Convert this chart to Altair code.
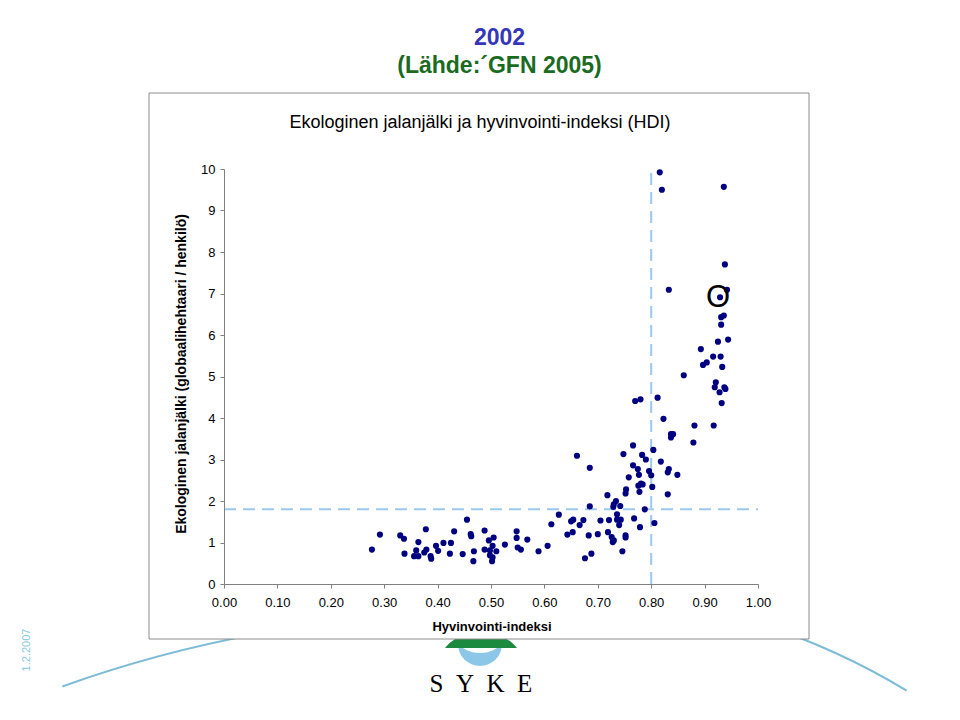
import math
import altair as alt
import pandas as pd

# ---------------- data ----------------
hdi = [0.277, 0.292, 0.330, 0.337, 0.338, 0.364, 0.378, 0.360, 0.356, 0.364,
       0.375, 0.379, 0.387, 0.388, 0.397, 0.401, 0.411, 0.425, 0.423, 0.431,
       0.455, 0.447, 0.462, 0.463, 0.468, 0.467, 0.488, 0.496, 0.505, 0.503,
       0.488, 0.498, 0.510, 0.498, 0.503, 0.502, 0.526, 0.548, 0.548, 0.550,
       0.556, 0.568, 0.589, 0.606, 0.613, 0.627, 0.650, 0.654, 0.643, 0.653,
       0.666,
       0.661, 0.685, 0.766, 0.748, 0.783, 0.790, 0.804, 0.818, 0.766, 0.775,
       0.777, 0.796, 0.800, 0.833, 0.831, 0.849, 0.758, 0.781, 0.776, 0.784,
       0.802, 0.753, 0.752, 0.778, 0.831, 0.718, 0.734, 0.730, 0.729, 0.742,
       0.685, 0.788, 0.736, 0.673, 0.705, 0.721, 0.736, 0.743, 0.740, 0.768,
       0.779, 0.806, 0.683, 0.700, 0.719, 0.726, 0.730, 0.728, 0.752, 0.752,
       0.688, 0.676, 0.746,
       0.816, 0.820, 0.936, 0.938, 0.833, 0.942, 0.929, 0.936, 0.931, 0.931,
       0.925, 0.944, 0.893, 0.916, 0.930, 0.904, 0.897, 0.933, 0.861, 0.921,
       0.919, 0.937, 0.939, 0.928, 0.932, 0.770, 0.780, 0.812, 0.823, 0.881,
       0.917, 0.837, 0.841, 0.837, 0.879]

footprint = [0.83, 1.19, 1.17, 1.09, 0.73, 1.01, 1.32, 0.81, 0.67, 0.67,
             0.76, 0.83, 0.67, 0.61, 0.92, 0.80, 0.99, 0.99, 0.73, 1.27,
             1.55, 0.72, 1.20, 1.15, 0.79, 0.55, 1.29, 1.05, 1.12, 0.92,
             0.83, 0.81, 0.79, 0.69, 0.64, 0.55, 0.95, 1.27, 1.11, 0.88,
             0.83, 1.07, 0.79, 0.92, 1.44, 1.67, 1.51, 1.55, 1.19, 1.25,
             1.42,
             3.09, 2.80, 3.34, 3.13, 3.11, 3.00, 3.23, 2.95, 2.86, 2.77,
             2.63, 2.72, 2.62, 2.77, 2.69, 2.63, 2.57, 2.42, 2.37, 2.40,
             2.34, 2.28, 2.18, 2.22, 2.16, 2.14, 2.00, 1.92, 1.86, 1.88,
             1.87, 1.80, 1.68, 1.54, 1.53, 1.54, 1.55, 1.55, 1.42, 1.58,
             1.37, 1.47, 1.17, 1.20, 1.25, 1.13, 1.05, 1.01, 1.17, 1.12,
             0.73, 0.62, 0.79,
             9.92, 9.50, 9.57, 7.70, 7.09, 7.09, 6.91, 6.47, 6.43, 6.25,
             5.84, 5.89, 5.66, 5.48, 5.48, 5.34, 5.28, 5.23, 5.03, 4.86,
             4.74, 4.74, 4.70, 4.62, 4.36, 4.41, 4.45, 4.49, 3.98, 3.82,
             3.82, 3.61, 3.61, 3.53, 3.41]

x_ticks = [0.0, 0.1, 0.2, 0.3, 0.4, 0.5, 0.6, 0.7, 0.8, 0.9, 1.0]
y_ticks = [0, 1, 2, 3, 4, 5, 6, 7, 8, 9, 10]

hdi_threshold = 0.80      # vertical dashed line
biocapacity = 1.8         # horizontal dashed line

annot_x = [0.925]
annot_y = [6.89]
annot_text = ["O"]

heading_year = "2002"
heading_source = "(Lähde:´GFN 2005)"
chart_title = "Ekologinen jalanjälki ja hyvinvointi-indeksi (HDI)"
x_title = "Hyvinvointi-indeksi"
y_title = "Ekologinen jalanjälki (globaalihehtaari / henkilö)"
logo_text = "S\u00a0\u00a0Y\u00a0\u00a0K\u00a0\u00a0E"
date_text = "1.2.2007"

# ---------------- chart ----------------
FONT = "Liberation Sans"
W, H = 534, 415
TAU = 2 * math.pi

pts = pd.DataFrame({"hdi": hdi, "ef": footprint})
one = pd.DataFrame({"k": [0]})

xs = alt.Scale(domain=[0, 1], nice=False, zero=False)
ys = alt.Scale(domain=[0, 10], nice=False, zero=False)
xa = alt.Axis(values=x_ticks, format=".2f", grid=False, tickSize=4, labelPadding=8,
              labelFontSize=13, labelFont=FONT, labelColor="black",
              domainColor="#808080", tickColor="#808080", labelFlush=False,
              labelOverlap=False, title="", zindex=1)
ya = alt.Axis(values=y_ticks, format="d", grid=False, tickSize=4, labelPadding=5,
              labelFontSize=13, labelFont=FONT, labelColor="black",
              domainColor="#808080", tickColor="#808080", labelFlush=False,
              labelOverlap=False, title="", zindex=1)

base1 = alt.Chart(one)

# decorative background arcs (left and right swoosh, mostly hidden by the box)
arc_left = base1.mark_arc(theta=TAU - 0.343, theta2=TAU,
                          outerRadius=1245, innerRadius=1243,
                          color="#7dbcd8").encode(x=alt.value(256.7), y=alt.value(1689))
arc_right = base1.mark_arc(theta=0.2, theta2=0.543,
                           outerRadius=701, innerRadius=699,
                           color="#7dbcd8").encode(x=alt.value(321), y=alt.value(1121))

# logo
bowl = base1.mark_arc(theta=math.pi / 2, theta2=3 * math.pi / 2, outerRadius=22,
                      color="#8cc7e8").encode(x=alt.value(256), y=alt.value(475))
bowl_cut = base1.mark_arc(theta=math.pi / 2, theta2=3 * math.pi / 2, outerRadius=33,
                          color="white").encode(x=alt.value(256), y=alt.value(451))
hill_path = "M -1 0 L 1 0 C 0.75 -0.3 0.55 -0.36 0 -0.36 C -0.55 -0.36 -0.75 -0.3 -1 0 Z"
hill = base1.mark_point(shape=hill_path, size=5184, filled=True, color="#1b8a3e",
                        opacity=1, strokeWidth=0).encode(x=alt.value(257), y=alt.value(479))

# white chart box
box = base1.mark_rect(fill="white", stroke="#8c8c8c", strokeWidth=1).encode(
    x=alt.value(-75), x2=alt.value(585), y=alt.value(-76), y2=alt.value(470))

vline = alt.Chart(pd.DataFrame({"x": [hdi_threshold], "y0": [0], "y1": [10]})).mark_rule(
    color="#9cc8ef", strokeWidth=2, strokeDash=[12, 7]).encode(
    x=alt.X("x:Q", scale=xs, axis=xa), y=alt.Y("y0:Q", scale=ys, axis=ya), y2="y1:Q")
hline = alt.Chart(pd.DataFrame({"y": [biocapacity], "x0": [0], "x1": [1]})).mark_rule(
    color="#9cc8ef", strokeWidth=2, strokeDash=[12, 7]).encode(
    y=alt.Y("y:Q", scale=ys, axis=ya), x=alt.X("x0:Q", scale=xs, axis=xa), x2="x1:Q")

points = alt.Chart(pts).mark_circle(size=38, color="#000080", opacity=1).encode(
    x=alt.X("hdi:Q", scale=xs, axis=xa), y=alt.Y("ef:Q", scale=ys, axis=ya))

annot = alt.Chart(pd.DataFrame({"x": annot_x, "y": annot_y, "t": annot_text})).mark_text(
    font=FONT, fontSize=31, color="black", baseline="middle", align="center").encode(
    x=alt.X("x:Q", scale=xs, axis=xa), y=alt.Y("y:Q", scale=ys, axis=ya), text="t:N")


def label(text, x, y, size, color="black", weight="normal", angle=0, font=FONT,
          baseline="alphabetic"):
    return base1.mark_text(text=text, font=font, fontSize=size, color=color,
                           fontWeight=weight, angle=angle, align="center",
                           baseline=baseline).encode(x=alt.value(x), y=alt.value(y))


t_year = label(heading_year, 275.5, -124, 23, color="#3636b8", weight="bold")
t_src = label(heading_source, 275.5, -96, 23, color="#1a6b1f", weight="bold")
t_title = label(chart_title, 256, -41, 18)
t_x = label(x_title, 268, 462, 13, weight="bold")
t_y = label(y_title, -42, 205, 14, weight="bold", angle=270, baseline="middle")
t_logo = label(logo_text, 257, 523, 25, font="Liberation Serif")
t_date = label(date_text, -197, 481, 11, color="#8cc8e0", angle=270, baseline="middle")

chart = alt.layer(
    arc_left, arc_right, bowl, bowl_cut, hill, box,
    hline, vline, points, annot,
    t_year, t_src, t_title, t_x, t_y, t_logo, t_date,
).properties(
    width=W, height=H,
    autosize=alt.AutoSizeParams(type="none"),
    padding={"left": 216, "top": 161, "right": 190, "bottom": 120},
).configure(background="white").configure_view(strokeWidth=0)

chart.save("out.html", embed_options={"renderer": "svg", "actions": False})
